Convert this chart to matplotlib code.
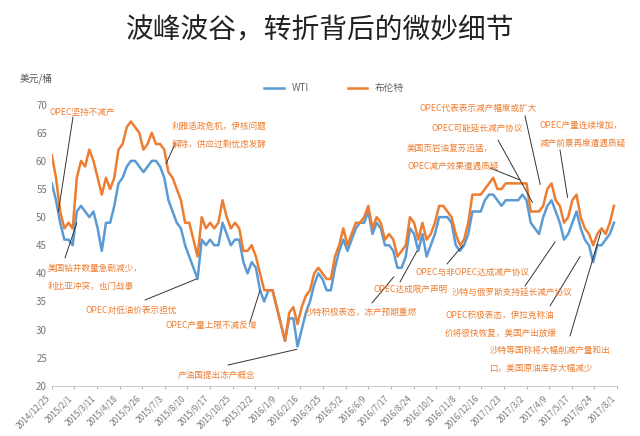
import matplotlib
matplotlib.use("Agg")
import matplotlib.pyplot as plt
import pandas as pd

plt.rcParams['font.family'] = ['Noto Sans CJK SC', 'DejaVu Sans']

brent = [61,
 57,51,48,49,48, 57,60,59,62, 60,57,54,57, 55,57,62,63,66, 67,66,65,62, 63,65,63,63,
 62,58,57,55,53, 49,49,46,43, 50,48,49,48, 49,53,50,48,49, 48,44,44,45, 43,40,37,37,37,
 34,31,28,33, 34,31,34,36, 37,40,41,40,39, 39,43,45,48, 45,47,49,49, 50,52,48,50,49,
 46,47,46,43, 44,45,50,49, 46,49,46,47,49, 52,52,51,50, 47,45,46,49, 54,54,54,55,56,
 57,55,55,56, 56,56,56,56, 56,51,51,51,52, 55,56,53,52, 49,50,53,54, 50,48,47,45,47, 48,47,49,52]
wti = [56,
 53,49,46,46,45, 51,52,51,50, 51,48,44,49, 49,52,56,57,59, 60,60,59,58, 59,60,60,59,
 57,53,51,49,48, 45,43,41,39, 46,45,46,45, 45,49,47,45,46, 46,42,40,42, 41,37,35,37,37,
 34,31,28,32, 32,27,30,33, 35,38,40,39,37, 37,41,44,46, 44,46,48,49, 49,51,47,49,48,
 45,45,44,41, 41,43,48,47, 44,47,43,45,47, 50,50,50,49, 45,44,45,47, 51,51,51,53,54,
 54,53,52,53, 53,53,53,54, 53,49,48,47,50, 52,53,51,49, 46,47,49,51, 48,46,45,42,45, 45,46,47,49]
dates = pd.date_range('2014-12-25', periods=len(brent), freq='7D')
tick_dates = pd.date_range('2014-12-25', periods=26, freq='38D')
tick_labels = [d.strftime('%Y/') + str(d.month) + '/' + str(d.day) for d in tick_dates]

blue = '#5B9BD5'
orange = '#ED7D31'

fig = plt.figure(figsize=(6.4, 4.36), dpi=100)
ax = fig.add_axes([0.081, 0.115, 0.883, 0.645])
ax.plot(dates, wti, color=blue, lw=1.8, label='WTI')
ax.plot(dates, brent, color=orange, lw=1.8, label='布伦特')
ax.set_ylim(20, 70)
ax.set_xlim(pd.Timestamp('2014-12-25'), pd.Timestamp('2017-08-01'))
ax.set_yticks(range(20, 71, 5))
ax.set_xticks(tick_dates)
ax.set_xticklabels(tick_labels, rotation=45, ha='right', fontsize=6, color='#777777')
ax.tick_params(axis='y', labelsize=7, colors='#777777', length=0)
ax.tick_params(axis='x', length=2, colors='#bbbbbb', labelcolor='#777777')
for s in ['top', 'right', 'left']:
    ax.spines[s].set_visible(False)
ax.spines['bottom'].set_color('#cccccc')
ax.legend(loc='lower center', bbox_to_anchor=(0.5, 1.01), ncol=2, frameon=False,
          fontsize=7, handlelength=2, columnspacing=4, labelcolor='#666666')

fig.text(0.5, 0.93, '波峰波谷，转折背后的微妙细节', ha='center', va='center', fontsize=20, color='#222222')
fig.text(0.03, 0.81, '美元/桶', fontsize=7, color='#555555')

H = 436
def fp(x, y):
    return (x, H - y)

notes = [
    (['OPEC坚持不减产'], (50, 112), (73, 117), '2015-01-05', 51),
    (['美国钻井数量急剧减少，', '利比亚冲突，也门战事'], (48, 268), (65, 258), '2015-02-05', 49),
    (['OPEC对低油价表示担忧'], (85, 310), (145, 300), '2015-08-25', 39),
    (['OPEC产量上限不减反增'], (165, 325), (250, 322), '2015-12-10', 37),
    (['产油国提出冻产概念'], (178, 375), (228, 365), '2016-02-10', 26.5),
    (['利雅适政危机，伊核问题', '解除，供应过剩忧虑发酵'], (172, 126), (175, 144), '2015-07-05', 59.5),
    (['沙特积极表态，冻产预期重燃'], (305, 312), (372, 303), '2016-07-22', 39.4),
    (['OPEC达成限产声明'], (373, 289), (400, 282), '2016-08-30', 44),
    (['OPEC与非OPEC达成减产协议'], (415, 272), (447, 264), '2016-11-15', 45),
    (['沙特与俄罗斯支持延长减产协议'], (452, 292), (525, 286), '2017-04-19', 45.6),
    (['OPEC积极表态，伊拉克称油', '价将很快恢复，美国产出放缓'], (445, 315), (550, 306), '2017-05-31', 43),
    (['沙特等国称将大幅削减产量和出', '口，美国原油库存大幅减少'], (490, 350), (570, 336), '2017-07-05', 47.4),
    (['OPEC代表表示减产幅度或扩大'], (420, 108), (525, 116), '2017-03-25', 55.8),
    (['OPEC可能延长减产协议'], (432, 128), (498, 140), '2017-03-12', 52.6),
    (['美国页岩油复苏迅猛，', 'OPEC减产效果遭遇质疑'], (407, 148), (490, 168), '2017-02-19', 56.6),
    (['OPEC产量连续增加，', '减产前景再度遭遇质疑'], (540, 125), (560, 150), '2017-05-10', 53.5),
]
for lines, tpos, lstart, tdate, tval in notes:
    for i, ln in enumerate(lines):
        fig.text(tpos[0] / 640, 1 - (tpos[1] + i * 18) / H, ln, fontsize=6.2,
                 color=orange, va='center', ha='left')
    ax.annotate('', xy=(pd.Timestamp(tdate), tval), xycoords='data',
                xytext=fp(*lstart), textcoords='figure pixels',
                arrowprops=dict(arrowstyle='-', color='#333333', lw=0.7, shrinkA=0, shrinkB=0))

fig.savefig('out.png', dpi=100)
